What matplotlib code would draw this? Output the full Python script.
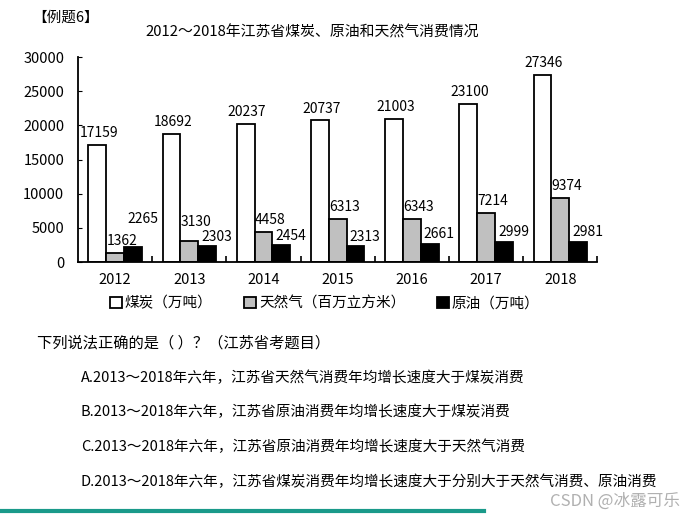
import numpy as np
import matplotlib.pyplot as plt
from matplotlib.lines import Line2D

plt.rcParams['font.family'] = ['Noto Sans CJK SC', 'DejaVu Sans']

# data
years = ['2012', '2013', '2014', '2015', '2016', '2017', '2018']
coal = [17159, 18692, 20237, 20737, 21003, 23100, 27346]
gas = [1362, 3130, 4458, 6313, 6343, 7214, 9374]
oil = [2265, 2303, 2454, 2313, 2661, 2999, 2981]

series_names = ['煤炭（万吨）', '天然气（百万立方米）', '原油（万吨）']
title = '2012～2018年江苏省煤炭、原油和天然气消费情况'
question = '下列说法正确的是（ ）？（江苏省考题目）'
options = [
    'A.2013～2018年六年，江苏省天然气消费年均增长速度大于煤炭消费',
    'B.2013～2018年六年，江苏省原油消费年均增长速度大于煤炭消费',
    'C.2013～2018年六年，江苏省原油消费年均增长速度大于天然气消费',
    'D.2013～2018年六年，江苏省煤炭消费年均增长速度大于分别大于天然气消费、原油消费',
]

fig = plt.figure(figsize=(6.97, 5.14), dpi=100)
ax = fig.add_axes([0.112, 0.490, 0.745, 0.399])

x = np.arange(len(years))
w = 0.24
colors = ['white', '#c0c0c0', 'black']
label_off = [(1, 3.5), (5, 3.5), (7, 2)]
# a few labels were nudged up by hand in the original
nudge = {(2, 0): 13, (1, 1): 5}
for i, (vals, c) in enumerate(zip([coal, gas, oil], colors)):
    bars = ax.bar(x + (i - 1) * w, vals, w, color=c, edgecolor='black',
                  linewidth=1.3, label=series_names[i])
    for j, (b, v) in enumerate(zip(bars, vals)):
        dx, dy = label_off[i]
        dy += nudge.get((i, j), 0)
        ax.annotate(str(v), (b.get_x() + b.get_width() / 2, v),
                    xytext=(dx, dy), textcoords='offset points',
                    ha='center', va='bottom', fontsize=10)

ax.set_xlim(-0.5, len(years) - 0.5)
ax.set_ylim(0, 30000)
ax.set_yticks(range(0, 30001, 5000))
ax.tick_params(axis='y', direction='in', length=3, labelsize=10.5, pad=10)
ax.set_xticks(x)
ax.set_xticklabels(years, fontsize=10.5)
ax.tick_params(axis='x', length=0, pad=8)
ax.set_xticks(np.arange(0.5, len(years), 1), minor=True)
ax.tick_params(axis='x', which='minor', direction='in', length=4, width=1.2)
for s in ['top', 'right']:
    ax.spines[s].set_visible(False)
for s in ['left', 'bottom']:
    ax.spines[s].set_linewidth(1.3)

fig.legend(loc='center', bbox_to_anchor=(0.466, 0.41), ncol=3, frameon=False,
           fontsize=10.5, handlelength=0.8, handleheight=0.8,
           handletextpad=0.2, columnspacing=2.2)

fig.text(0.046, 0.965, '【例题6】', fontsize=10.5, va='center')
fig.text(0.448, 0.937, title, fontsize=10.7, ha='center', va='center')

fig.text(0.053, 0.333, question, fontsize=11, va='center')
for opt, yy in zip(options, [0.264, 0.198, 0.130, 0.062]):
    fig.text(0.116, yy, opt, fontsize=10.5, va='center')

fig.text(0.976, 0.024, 'CSDN @冰露可乐', fontsize=12, ha='right', va='center',
         color='#b0b0b0')
fig.add_artist(Line2D([0, 0.695], [0.006, 0.006], transform=fig.transFigure,
                      color='#1a9a8a', linewidth=3))

fig.savefig('out.png', dpi=100)
